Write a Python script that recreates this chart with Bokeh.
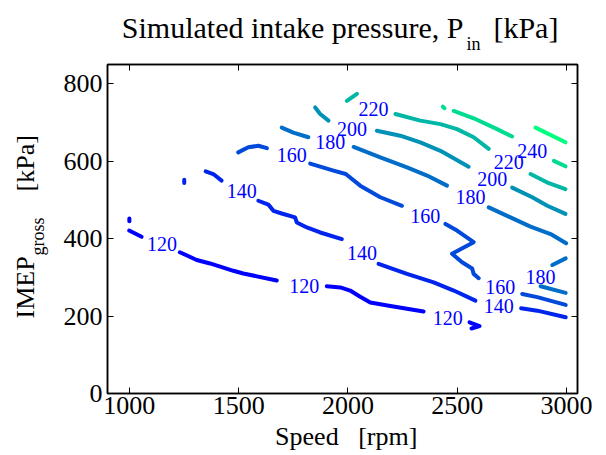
from bokeh.plotting import figure
from bokeh.models import Label, LinearAxis, FixedTicker
from bokeh.core.properties import value
from bokeh.embed import file_html
from bokeh.resources import INLINE

# ---- data (speed [rpm], IMEP [kPa]) ----
x_ticks = [1000, 1500, 2000, 2500, 3000]
y_ticks = [0, 200, 400, 600, 800]
levels = [120, 140, 160, 180, 200, 220, 240, 260]

c120_x = [[1000, 1000], [999, 1056], [1231, 1308, 1369, 1476, 1521, 1674],
          [1903, 1965, 2010, 2056, 2102, 2194, 2346], [2556, 2602, 2565]]
c120_y = [[452, 445], [421, 405], [365, 345, 336, 317, 310, 292],
          [277, 274, 266, 250, 235, 226, 212], [184, 174, 168]]
c140_x = [[1251, 1251], [1349, 1384, 1422],
          [1590, 1636, 1659, 1697, 1758, 1766, 1812, 1873, 1972],
          [2140, 2270, 2392, 2484, 2583], [2792, 2866, 2996]]
c140_y = [[552, 544], [574, 567, 550],
          [498, 488, 472, 465, 455, 442, 429, 416, 399],
          [335, 309, 287, 266, 240], [220, 214, 197]]
c160_x = [[1498, 1544, 1590, 1629], [1827, 1934, 1990, 2056, 2148, 2247],
          [2446, 2499, 2575, 2476, 2522, 2568, 2575, 2598], [2797, 2866, 2996]]
c160_y = [[623, 636, 640, 634], [594, 576, 567, 537, 507, 485],
          [438, 421, 391, 361, 339, 323, 309, 298], [257, 249, 229]]
c180_x = [[1697, 1750, 1819], [2026, 2148, 2270, 2362, 2453],
          [2644, 2728, 2835, 2927, 2998], [2935, 2996], [2881, 2996]]
c180_y = [[687, 674, 662], [637, 610, 584, 563, 537],
          [481, 459, 431, 412, 388], [332, 349], [277, 260]]
c200_x = [[1850, 1873, 1911], [2132, 2239, 2331, 2423, 2552], [2751, 2843, 2912, 2995]]
c200_y = [[739, 722, 705], [679, 666, 649, 627, 586], [532, 507, 485, 464]]
c220_x = [[1995, 2041], [2217, 2331, 2423, 2499, 2575, 2644], [2835, 2912, 2995]]
c220_y = [[756, 774], [722, 705, 696, 683, 662, 632], [567, 545, 528]]
c240_x = [[2434, 2442], [2484, 2575, 2682, 2751], [2942, 2995]]
c240_y = [[741, 737], [730, 711, 683, 664], [601, 587]]
c260_x = [[2858, 2995]]
c260_y = [[687, 649]]

label_x = [1149, 1800, 2456, 1514, 2064, 2690, 1743, 2354, 2697,
           1919, 2560, 2881, 2018, 2660, 2117, 2736, 2843]
label_y = [387, 279, 194, 524, 362, 227, 617, 459, 274,
           649, 507, 300, 683, 554, 735, 597, 627]
label_text = ["120", "120", "120", "140", "140", "140", "160", "160", "160",
              "180", "180", "180", "200", "200", "220", "220", "240"]

contours_x = [c120_x, c140_x, c160_x, c180_x, c200_x, c220_x, c240_x, c260_x]
contours_y = [c120_y, c140_y, c160_y, c180_y, c200_y, c220_y, c240_y, c260_y]

# winter colormap
def winter(lv):
    t = (lv - levels[0]) / (levels[-1] - levels[0])
    return "#%02x%02x%02x" % (0, int(round(255 * t)), int(round(255 * (1 - 0.5 * t))))

SERIF = "Liberation Serif"
NB = "\u00a0"

p = figure(x_range=(900, 3050), y_range=(0, 850),
           frame_width=470, frame_height=329,
           min_border_left=107, min_border_right=21, min_border_top=64, min_border_bottom=62,
           output_backend="svg", toolbar_location=None)
p.background_fill_color = "white"
p.border_fill_color = "white"
p.outline_line_color = "black"
p.outline_line_width = 1.5
p.xgrid.visible = False
p.ygrid.visible = False

for lv, xs, ys in zip(levels, contours_x, contours_y):
    p.multi_line(xs=xs, ys=ys, line_color=winter(lv), line_width=4, line_cap="round", line_join="round")

p.text(x=label_x, y=label_y, text=label_text, text_font=value(SERIF), text_font_size="20px",
       text_color="#0000ff", text_align="center", text_baseline="middle")

def style_axis(ax, labels=True):
    ax.major_tick_in = 6
    ax.major_tick_out = 0
    ax.minor_tick_line_color = None
    ax.axis_line_color = "black"
    ax.axis_line_width = 1.5
    ax.major_tick_line_color = "black"
    ax.major_tick_line_width = 1
    if labels:
        ax.major_label_text_font = SERIF
        ax.major_label_text_font_size = "26px"
        ax.major_label_text_color = "black"
    else:
        ax.major_label_text_font_size = "0px"
        ax.major_label_text_color = None

p.xaxis.ticker = FixedTicker(ticks=x_ticks)
p.yaxis.ticker = FixedTicker(ticks=y_ticks)
style_axis(p.xaxis[0])
style_axis(p.yaxis[0])
p.xaxis.major_label_standoff = 3
p.yaxis.major_label_standoff = 5

top = LinearAxis(ticker=FixedTicker(ticks=x_ticks))
style_axis(top, labels=False)
p.add_layout(top, "above")
right = LinearAxis(ticker=FixedTicker(ticks=y_ticks))
style_axis(right, labels=False)
p.add_layout(right, "right")

# page -> data position helpers for text placed in the margins
def X(px):
    return 1000 + (px - 129.5) * 2000 / 436.5
def Y(py):
    return (393 - py) * 850 / 329

def lab(text, px, py, size, side, angle=0, align="left"):
    p.add_layout(Label(x=X(px), y=Y(py), text=text,
                       text_font=SERIF, text_font_size=size, text_color="black",
                       text_align=align, text_baseline="alphabetic", angle=angle, angle_units="deg"), side)

# title
lab("Simulated intake pressure, P" + NB * 4 + "[kPa]", 122, 27, "30px", "above")
lab("in", 466, 43, "18px", "above")
# x label
lab("Speed" + NB * 3 + "[rpm]", 346, 436, "26px", "below", align="center")
# y label
lab("IMEP" + NB * 10 + "[kPa]", 26, 318, "26px", "left", angle=90)
lab("gross", 38, 255, "18px", "left", angle=90)

open("out.html", "w").write(file_html(p, INLINE))
